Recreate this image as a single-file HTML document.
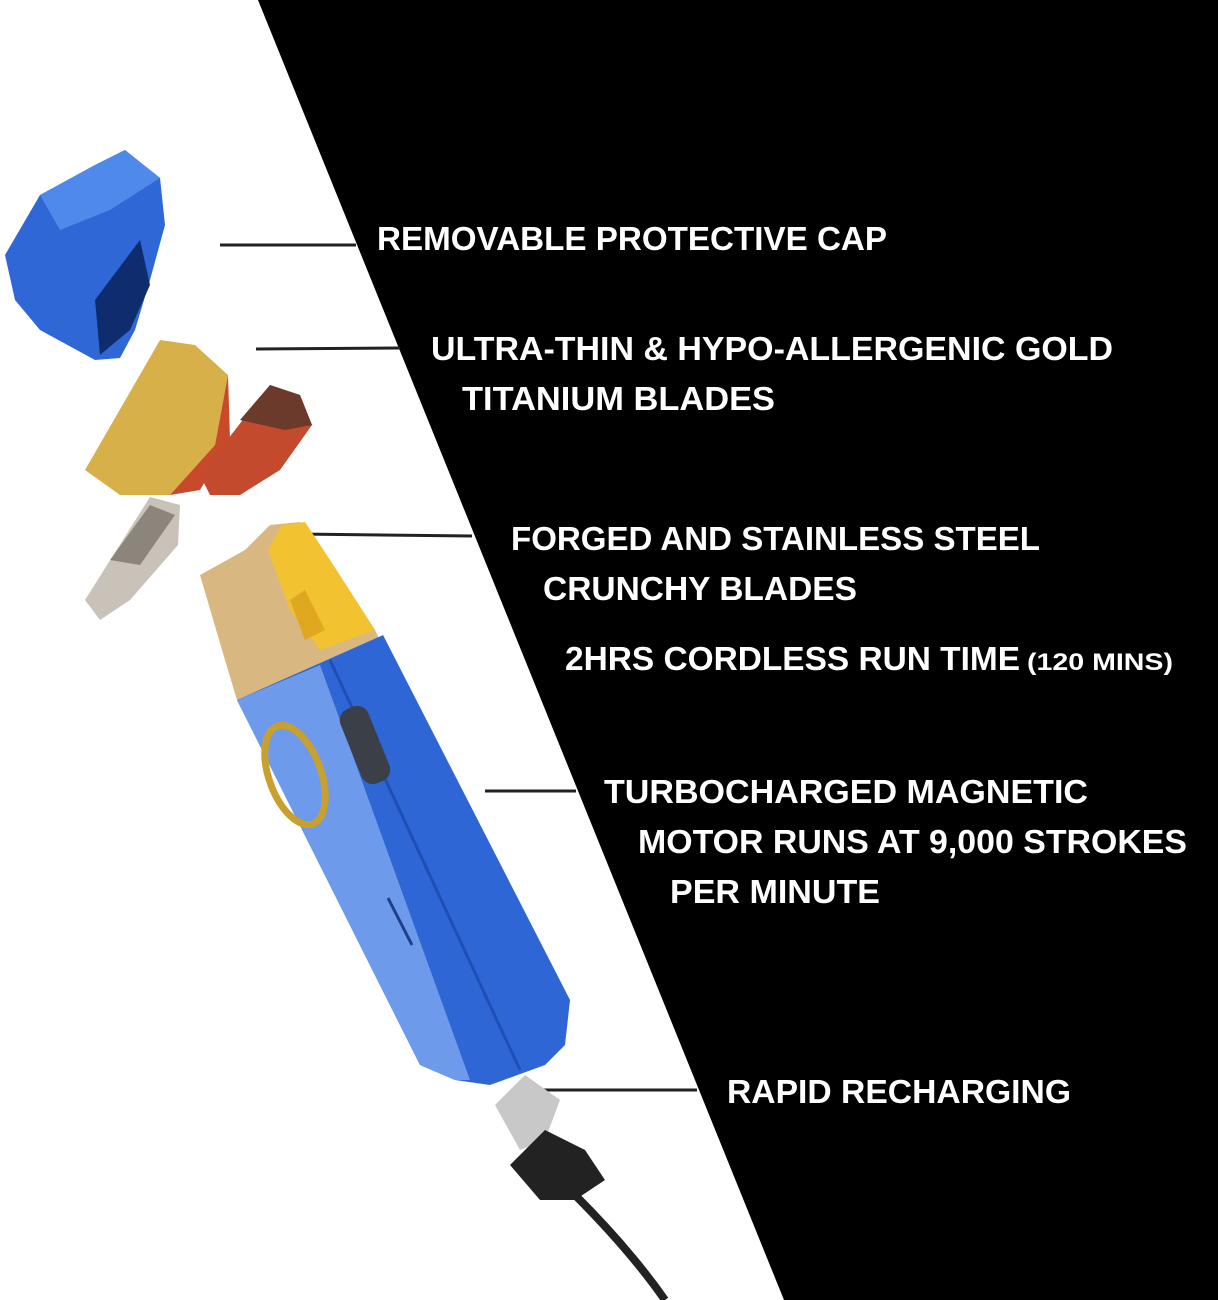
<!DOCTYPE html>
<html><head><meta charset="utf-8"><style>
html,body{margin:0;padding:0;background:#fff}
svg{display:block}
text{font-family:"Liberation Sans",sans-serif;font-weight:bold;fill:#fff}
</style></head><body>
<svg width="1218" height="1300" viewBox="0 0 1218 1300" xmlns="http://www.w3.org/2000/svg">
<rect width="1218" height="1300" fill="#fff"/>
<polygon points="258,0 1218,0 1218,1300 784,1300" fill="#000"/>
<g stroke="#222" stroke-width="3">
<line x1="220" y1="245" x2="356" y2="245"/>
<line x1="256" y1="349" x2="400" y2="348"/>
<line x1="297" y1="534" x2="472" y2="536"/>
<line x1="485" y1="791" x2="576" y2="791"/>
<line x1="540" y1="1090" x2="697" y2="1090"/>
</g>
<!-- cap -->
<polygon points="5,255 40,195 95,165 125,150 160,178 165,225 150,280 135,330 120,358 95,360 40,330 15,300" fill="#2f67d6"/>
<polygon points="40,195 95,165 125,150 160,178 110,210 60,230" fill="#4f8aeb"/>
<polygon points="95,300 140,240 150,285 130,330 100,355" fill="#0f2d6e"/>
<!-- gold blade -->
<polygon points="85,470 160,340 195,345 228,375 215,445 170,495 120,495" fill="#d8b04a"/>
<polygon points="170,495 215,445 228,375 230,440 200,490" fill="#c94a2a"/>
<!-- red blade -->
<polygon points="200,475 270,385 300,395 312,425 280,470 240,495 210,495" fill="#c44a2e"/>
<polygon points="240,420 270,385 300,395 312,425 285,430" fill="#6b3a2a"/>
<!-- silver blade -->
<polygon points="85,600 150,497 180,505 178,545 130,600 100,620" fill="#c8c2b8"/>
<polygon points="110,560 150,505 175,515 140,565" fill="#8c857c"/>
<!-- head -->
<polygon points="200,575 245,550 270,525 300,522 330,560 375,630 380,640 300,675 237,700 225,660" fill="#d8b880"/>
<polygon points="268,550 282,525 305,522 330,560 375,630 320,650 290,610" fill="#f2c230"/>
<polygon points="290,600 305,590 325,630 305,640" fill="#e0a820"/>
<!-- body -->
<polygon points="237,700 383,635 570,1000 565,1045 545,1065 490,1085 455,1080 420,1065" fill="#2f66d6"/>
<polygon points="237,700 320,665 470,1080 455,1080 420,1065" fill="#6d9aea"/>
<line x1="330" y1="660" x2="520" y2="1070" stroke="#1e4fb5" stroke-width="3"/>
<rect x="350" y="705" width="30" height="80" rx="12" fill="#3a3f48" transform="rotate(-22 365 745)"/>
<ellipse cx="295" cy="775" rx="26" ry="52" fill="none" stroke="#c8a030" stroke-width="7" transform="rotate(-20 295 775)"/>
<line x1="388" y1="898" x2="412" y2="945" stroke="#1e3f8a" stroke-width="3"/>
<!-- usb -->
<polygon points="495,1105 525,1075 560,1100 545,1140 520,1150" fill="#c8c8c8"/>
<polygon points="510,1165 545,1130 585,1150 605,1180 575,1200 540,1200" fill="#222"/>
<path d="M575,1195 Q630,1250 665,1300" stroke="#222" stroke-width="8" fill="none"/>
<!-- text -->
<g font-size="33">
<text x="377" y="250" textLength="510" lengthAdjust="spacingAndGlyphs">REMOVABLE PROTECTIVE CAP</text>
<text x="431" y="360" textLength="682" lengthAdjust="spacingAndGlyphs">ULTRA-THIN &amp; HYPO-ALLERGENIC GOLD</text>
<text x="462" y="410" textLength="313" lengthAdjust="spacingAndGlyphs">TITANIUM BLADES</text>
<text x="511" y="550" textLength="529" lengthAdjust="spacingAndGlyphs">FORGED AND STAINLESS STEEL</text>
<text x="543" y="600" textLength="314" lengthAdjust="spacingAndGlyphs">CRUNCHY BLADES</text>
<text x="565" y="670" textLength="455" lengthAdjust="spacingAndGlyphs">2HRS CORDLESS RUN TIME</text>
<text x="1027" y="670" font-size="24" textLength="146" lengthAdjust="spacingAndGlyphs">(120 MINS)</text>
<text x="604" y="803" textLength="484" lengthAdjust="spacingAndGlyphs">TURBOCHARGED MAGNETIC</text>
<text x="638" y="853" textLength="549" lengthAdjust="spacingAndGlyphs">MOTOR RUNS AT 9,000 STROKES</text>
<text x="670" y="903" textLength="210" lengthAdjust="spacingAndGlyphs">PER MINUTE</text>
<text x="727" y="1103" textLength="344" lengthAdjust="spacingAndGlyphs">RAPID RECHARGING</text>
</g>
</svg>
</body></html>
